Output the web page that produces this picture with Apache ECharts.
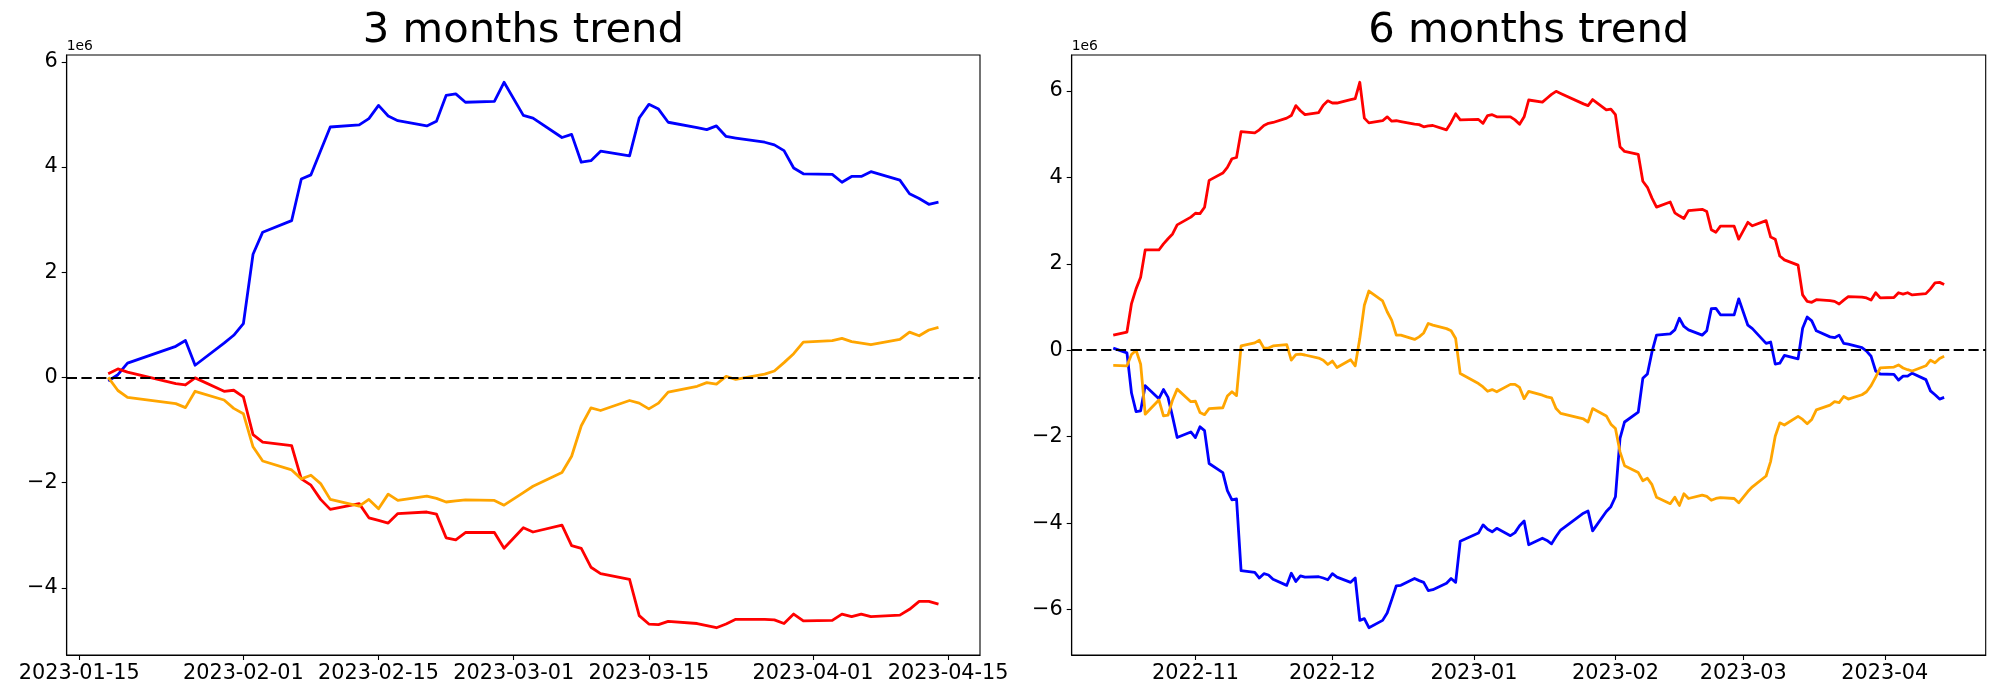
<!DOCTYPE html>
<html>
<head>
<meta charset="utf-8">
<script src="https://cdn.jsdelivr.net/npm/echarts@6/dist/echarts.min.js"></script>
<style>
  html, body { margin: 0; padding: 0; background: #fff; }
  #chart { width: 2000px; height: 700px; }
</style>
</head>
<body>
<div id="chart"></div>
<script>
// ---------------- DATA (values in units of 1e6) ----------------
const UNIT = 1e6;

const leftTitle = '3 months trend';
const rightTitle = '6 months trend';

const leftDates = [
  '2023-01-18','2023-01-19','2023-01-20','2023-01-25','2023-01-26','2023-01-27','2023-01-30','2023-01-31',
  '2023-02-01','2023-02-02','2023-02-03','2023-02-06','2023-02-07','2023-02-08','2023-02-09','2023-02-10',
  '2023-02-13','2023-02-14','2023-02-15','2023-02-16','2023-02-17','2023-02-20','2023-02-21','2023-02-22',
  '2023-02-23','2023-02-24','2023-02-27','2023-02-28',
  '2023-03-02','2023-03-03','2023-03-06','2023-03-07','2023-03-08','2023-03-09','2023-03-10','2023-03-13',
  '2023-03-14','2023-03-15','2023-03-16','2023-03-17','2023-03-20','2023-03-21','2023-03-22','2023-03-23',
  '2023-03-24','2023-03-27','2023-03-28','2023-03-29','2023-03-30','2023-03-31',
  '2023-04-03','2023-04-04','2023-04-05','2023-04-06','2023-04-07','2023-04-10','2023-04-11','2023-04-12',
  '2023-04-13','2023-04-14'
];
const leftBlue = [
  -0.07, 0.05, 0.27, 0.59, 0.70, 0.23, 0.65, 0.80,
  1.02, 2.34, 2.76, 2.98, 3.77, 3.85, 4.31, 4.76, 4.80, 4.92, 5.17, 4.97, 4.88, 4.78, 4.87, 5.36, 5.39, 5.23, 5.245, 5.61,
  4.98, 4.93, 4.56, 4.62, 4.09, 4.12, 4.30, 4.21, 4.93, 5.19, 5.10, 4.85, 4.75, 4.71, 4.78, 4.58, 4.55, 4.47, 4.42, 4.31, 3.98, 3.87,
  3.86, 3.71, 3.82, 3.82, 3.91, 3.75, 3.49, 3.40, 3.29, 3.33
];
const leftRed = [
  0.07, 0.16, 0.10, -0.12, -0.145, -0.01, -0.265, -0.245,
  -0.37, -1.09, -1.23, -1.30, -1.93, -2.05, -2.32, -2.51, -2.40, -2.67, -2.72, -2.77, -2.59, -2.56, -2.60, -3.05, -3.09, -2.95, -2.95, -3.25,
  -2.86, -2.94, -2.81, -3.20, -3.25, -3.61, -3.73, -3.84, -4.53, -4.69, -4.70, -4.64, -4.68, -4.72, -4.76, -4.69, -4.60, -4.60, -4.61, -4.68, -4.50, -4.63,
  -4.62, -4.50, -4.55, -4.50, -4.55, -4.52, -4.41, -4.26, -4.26, -4.31
];
const leftOrange = [
  0.0, -0.25, -0.38, -0.50, -0.575, -0.265, -0.43, -0.59,
  -0.69, -1.32, -1.59, -1.76, -1.93, -1.86, -2.02, -2.32, -2.45, -2.32, -2.50, -2.22, -2.34, -2.26, -2.30, -2.37, -2.35, -2.33, -2.34, -2.43,
  -2.19, -2.07, -1.81, -1.50, -0.92, -0.58, -0.63, -0.44, -0.49, -0.60, -0.49, -0.28, -0.17, -0.10, -0.13, 0.02, -0.04, 0.06, 0.12, 0.28, 0.45, 0.67,
  0.70, 0.74, 0.68, 0.65, 0.62, 0.72, 0.86, 0.79, 0.90, 0.95
];
const leftXTicks = ['2023-01-15','2023-02-01','2023-02-15','2023-03-01','2023-03-15','2023-04-01','2023-04-15'];
const leftYTicks = [-4, -2, 0, 2, 4, 6];

const rightDates = [
  '2022-10-14','2022-10-17','2022-10-18','2022-10-19','2022-10-20','2022-10-21','2022-10-24','2022-10-25','2022-10-26','2022-10-27','2022-10-28','2022-10-31',
  '2022-11-01','2022-11-02','2022-11-03','2022-11-04','2022-11-07','2022-11-08','2022-11-09','2022-11-10','2022-11-11','2022-11-14','2022-11-15',
  '2022-11-16','2022-11-17','2022-11-18','2022-11-21','2022-11-22','2022-11-23','2022-11-24','2022-11-25','2022-11-28','2022-11-29','2022-11-30',
  '2022-12-01','2022-12-02','2022-12-05','2022-12-06','2022-12-07','2022-12-08','2022-12-09','2022-12-12','2022-12-13','2022-12-14','2022-12-15',
  '2022-12-16','2022-12-19','2022-12-20','2022-12-21','2022-12-22','2022-12-23','2022-12-26','2022-12-27','2022-12-28','2022-12-29',
  '2023-01-02','2023-01-03','2023-01-04','2023-01-05','2023-01-06','2023-01-09','2023-01-10','2023-01-11','2023-01-12','2023-01-13',
  '2023-01-16','2023-01-17','2023-01-18','2023-01-19','2023-01-20','2023-01-25','2023-01-26','2023-01-27','2023-01-30','2023-01-31',
  '2023-02-01','2023-02-02','2023-02-03','2023-02-06','2023-02-07','2023-02-08','2023-02-09','2023-02-10','2023-02-13','2023-02-14',
  '2023-02-15','2023-02-16','2023-02-17','2023-02-20','2023-02-21','2023-02-22','2023-02-23','2023-02-24','2023-02-27','2023-02-28',
  '2023-03-02','2023-03-03','2023-03-06','2023-03-07','2023-03-08','2023-03-09','2023-03-10','2023-03-13','2023-03-14','2023-03-15',
  '2023-03-16','2023-03-17','2023-03-20','2023-03-21','2023-03-22','2023-03-23','2023-03-24','2023-03-27','2023-03-28','2023-03-29',
  '2023-03-30','2023-03-31',
  '2023-04-03','2023-04-04','2023-04-05','2023-04-06','2023-04-07','2023-04-10','2023-04-11','2023-04-12','2023-04-13','2023-04-14'
];
const rightRed = [
  0.35, 0.42, 1.08, 1.42, 1.69, 2.32, 2.32, 2.46, 2.58, 2.69, 2.90, 3.08,
  3.17, 3.16, 3.31, 3.93, 4.10, 4.23, 4.43, 4.46, 5.06, 5.03, 5.10, 5.20, 5.25, 5.27, 5.37, 5.43, 5.66, 5.54, 5.45, 5.50, 5.67, 5.77,
  5.72, 5.72, 5.80, 5.82, 6.20, 5.37, 5.26, 5.31, 5.40, 5.30, 5.31, 5.29, 5.23, 5.22, 5.17, 5.19, 5.20, 5.10, 5.27, 5.47, 5.33,
  5.34, 5.25, 5.43, 5.45, 5.40, 5.40, 5.33, 5.23, 5.40, 5.79, 5.74, 5.83, 5.92, 5.99, 5.94, 5.70, 5.66, 5.80, 5.56, 5.58,
  5.45, 4.71, 4.60, 4.53, 3.91, 3.77, 3.52, 3.31, 3.43, 3.18, 3.11, 3.05, 3.23, 3.26, 3.21, 2.79, 2.73, 2.87, 2.87, 2.57,
  2.96, 2.88, 3.00, 2.62, 2.57, 2.18, 2.09, 1.97, 1.28, 1.13, 1.11, 1.17, 1.15, 1.13, 1.07, 1.16, 1.24, 1.23, 1.21, 1.16, 1.33, 1.21,
  1.22, 1.33, 1.30, 1.33, 1.28, 1.31, 1.42, 1.56, 1.57, 1.52
];
const rightBlue = [
  0.05, -0.06, -0.99, -1.42, -1.40, -0.82, -1.12, -0.91, -1.09, -1.54, -2.02, -1.89,
  -2.02, -1.77, -1.86, -2.62, -2.83, -3.25, -3.46, -3.44, -5.10, -5.14, -5.27, -5.17, -5.20, -5.30, -5.44, -5.16, -5.35, -5.22, -5.25, -5.24, -5.27, -5.31,
  -5.17, -5.25, -5.37, -5.27, -6.25, -6.21, -6.42, -6.25, -6.08, -5.77, -5.45, -5.44, -5.28, -5.33, -5.37, -5.56, -5.54, -5.39, -5.28, -5.37, -4.42,
  -4.23, -4.04, -4.14, -4.20, -4.12, -4.29, -4.22, -4.06, -3.95, -4.50, -4.35, -4.40, -4.48, -4.31, -4.16, -3.77, -3.72, -4.18, -3.73, -3.62,
  -3.39, -2.04, -1.66, -1.43, -0.65, -0.55, -0.04, 0.35, 0.38, 0.47, 0.74, 0.55, 0.47, 0.35, 0.45, 0.96, 0.97, 0.82, 0.82, 1.19,
  0.58, 0.50, 0.16, 0.19, -0.32, -0.30, -0.12, -0.20, 0.51, 0.77, 0.68, 0.45, 0.31, 0.29, 0.35, 0.16, 0.14, 0.06, -0.02, -0.14, -0.48, -0.55,
  -0.56, -0.69, -0.60, -0.60, -0.53, -0.68, -0.94, -1.03, -1.13, -1.09
];
const rightOrange = [
  -0.35, -0.36, -0.10, 0.0, -0.32, -1.48, -1.15, -1.52, -1.50, -1.15, -0.90, -1.19,
  -1.18, -1.44, -1.49, -1.35, -1.33, -1.06, -0.96, -1.05, 0.10, 0.17, 0.23, 0.05, 0.05, 0.10, 0.13, -0.23, -0.10, -0.09, -0.11, -0.18, -0.23, -0.33,
  -0.25, -0.40, -0.22, -0.36, 0.27, 1.04, 1.37, 1.14, 0.89, 0.69, 0.35, 0.35, 0.25, 0.31, 0.40, 0.62, 0.58, 0.50, 0.45, 0.27, -0.54,
  -0.77, -0.85, -0.95, -0.91, -0.96, -0.79, -0.79, -0.86, -1.12, -0.95, -1.04, -1.08, -1.10, -1.35, -1.46, -1.59, -1.66, -1.35, -1.52, -1.71,
  -1.81, -2.35, -2.67, -2.83, -3.02, -2.96, -3.11, -3.40, -3.55, -3.40, -3.59, -3.32, -3.43, -3.35, -3.38, -3.47, -3.43, -3.41, -3.43, -3.53,
  -3.27, -3.16, -2.91, -2.57, -1.99, -1.68, -1.73, -1.53, -1.60, -1.70, -1.60, -1.38, -1.27, -1.19, -1.21, -1.07, -1.13, -1.03, -0.96, -0.82, -0.62, -0.41,
  -0.39, -0.34, -0.41, -0.45, -0.48, -0.36, -0.23, -0.29, -0.19, -0.14
];
const rightXTicks = ['2022-11','2022-12','2023-01','2023-02','2023-03','2023-04'];
const rightYTicks = [-6, -4, -2, 0, 2, 4, 6];

const seriesColors = { blue: '#0000ff', red: '#ff0000', orange: '#ffa500' };

// ---------------- HELPERS ----------------
function ts(s) {
  const p = s.split('-').map(Number);
  return Date.UTC(p[0], p[1] - 1, p[2] || 1);
}
function pad2(n) { return (n < 10 ? '0' : '') + n; }
function fmtDay(v) { const d = new Date(v); return d.getUTCFullYear() + '-' + pad2(d.getUTCMonth() + 1) + '-' + pad2(d.getUTCDate()); }
function fmtMonth(v) { const d = new Date(v); return d.getUTCFullYear() + '-' + pad2(d.getUTCMonth() + 1); }
function fmtY(v) { const n = Math.round(v / UNIT); return n < 0 ? '\u2212' + Math.abs(n) : String(n); }
function pairs(dates, vals) { return dates.map((d, i) => [ts(d), vals[i] * UNIT]); }
function margins(lo, hi) { const m = (hi - lo) * 0.05; return [lo - m, hi + m]; }

const FONT = 'DejaVu Sans';
const TICK_FS = 20.8;
const GRID_TOP = 55, GRID_H = 600;
const grids = [
  { left: 66.7, top: GRID_TOP, width: 913.3, height: GRID_H },
  { left: 1071.7, top: GRID_TOP, width: 914, height: GRID_H }
];

function buildX(idx, dates, ticks, fmt) {
  const [mn, mx] = margins(ts(dates[0]), ts(dates[dates.length - 1]));
  const tv = ticks.map(ts);
  return {
    type: 'value', gridIndex: idx, min: mn, max: mx, scale: true,
    axisLine: { show: true, onZero: false, lineStyle: { color: '#000', width: 1.1 } },
    axisTick: { show: true, length: 5, inside: false, lineStyle: { color: '#000', width: 1.1 }, customValues: tv },
    axisLabel: { show: true, customValues: tv, formatter: fmt, color: '#000', fontSize: TICK_FS, fontFamily: FONT, margin: 8, hideOverlap: false },
    splitLine: { show: false }
  };
}
function buildY(idx, seriesList, ticks) {
  const all = [].concat(...seriesList).map(v => v * UNIT);
  const [mn, mx] = margins(Math.min(...all), Math.max(...all));
  const tv = ticks.map(t => t * UNIT);
  return {
    type: 'value', gridIndex: idx, min: mn, max: mx, scale: true,
    axisLine: { show: true, lineStyle: { color: '#000', width: 1.1 } },
    axisTick: { show: true, length: 5, inside: false, lineStyle: { color: '#000', width: 1.1 }, customValues: tv },
    axisLabel: { show: true, customValues: tv, formatter: fmtY, color: '#000', fontSize: TICK_FS, fontFamily: FONT, margin: 9 },
    splitLine: { show: false }
  };
}
function line(idx, name, dates, vals, color, withZero) {
  const s = {
    type: 'line', name: name, xAxisIndex: idx, yAxisIndex: idx,
    data: pairs(dates, vals), showSymbol: false, symbol: 'none', clip: true,
    lineStyle: { color: color, width: 2.8, join: 'round', cap: 'butt' },
    itemStyle: { color: color }, emphasis: { disabled: true }, z: 3
  };
  if (withZero) {
    s.markLine = {
      silent: true, symbol: ['none', 'none'], label: { show: false },
      lineStyle: { color: '#000', width: 2.2, type: [10.3, 4.4] },
      emphasis: { disabled: true },
      data: [{ yAxis: 0 }]
    };
  }
  return s;
}

const chart = echarts.init(document.getElementById('chart'), null, { renderer: 'canvas' });
chart.setOption({
  animation: false,
  backgroundColor: '#fff',
  grid: grids.map(g => Object.assign({ show: true, borderColor: '#000', borderWidth: 1.1, backgroundColor: 'transparent', containLabel: false, outerBoundsMode: 'none' }, g)),
  xAxis: [
    buildX(0, leftDates, leftXTicks, fmtDay),
    buildX(1, rightDates, rightXTicks, fmtMonth)
  ],
  yAxis: [
    buildY(0, [leftBlue, leftRed, leftOrange], leftYTicks),
    buildY(1, [rightBlue, rightRed, rightOrange], rightYTicks)
  ],
  series: [
    line(0, 'blue', leftDates, leftBlue, seriesColors.blue, false),
    line(0, 'red', leftDates, leftRed, seriesColors.red, false),
    line(0, 'orange', leftDates, leftOrange, seriesColors.orange, true),
    line(1, 'blue', rightDates, rightBlue, seriesColors.blue, false),
    line(1, 'red', rightDates, rightRed, seriesColors.red, false),
    line(1, 'orange', rightDates, rightOrange, seriesColors.orange, true)
  ],
  graphic: [
    { type: 'text', x: 66.7 + 913.3 / 2, y: 52, silent: true,
      style: { text: leftTitle, fill: '#000', font: '41.7px "DejaVu Sans"', textAlign: 'center', textVerticalAlign: 'bottom' } },
    { type: 'text', x: 1071.7 + 914 / 2, y: 52, silent: true,
      style: { text: rightTitle, fill: '#000', font: '41.7px "DejaVu Sans"', textAlign: 'center', textVerticalAlign: 'bottom' } },
    { type: 'text', x: 66.7, y: 53, silent: true,
      style: { text: '1e6', fill: '#000', font: '13.9px "DejaVu Sans"', textAlign: 'left', textVerticalAlign: 'bottom' } },
    { type: 'text', x: 1071.7, y: 53, silent: true,
      style: { text: '1e6', fill: '#000', font: '13.9px "DejaVu Sans"', textAlign: 'left', textVerticalAlign: 'bottom' } }
  ]
});
</script>
</body>
</html>
